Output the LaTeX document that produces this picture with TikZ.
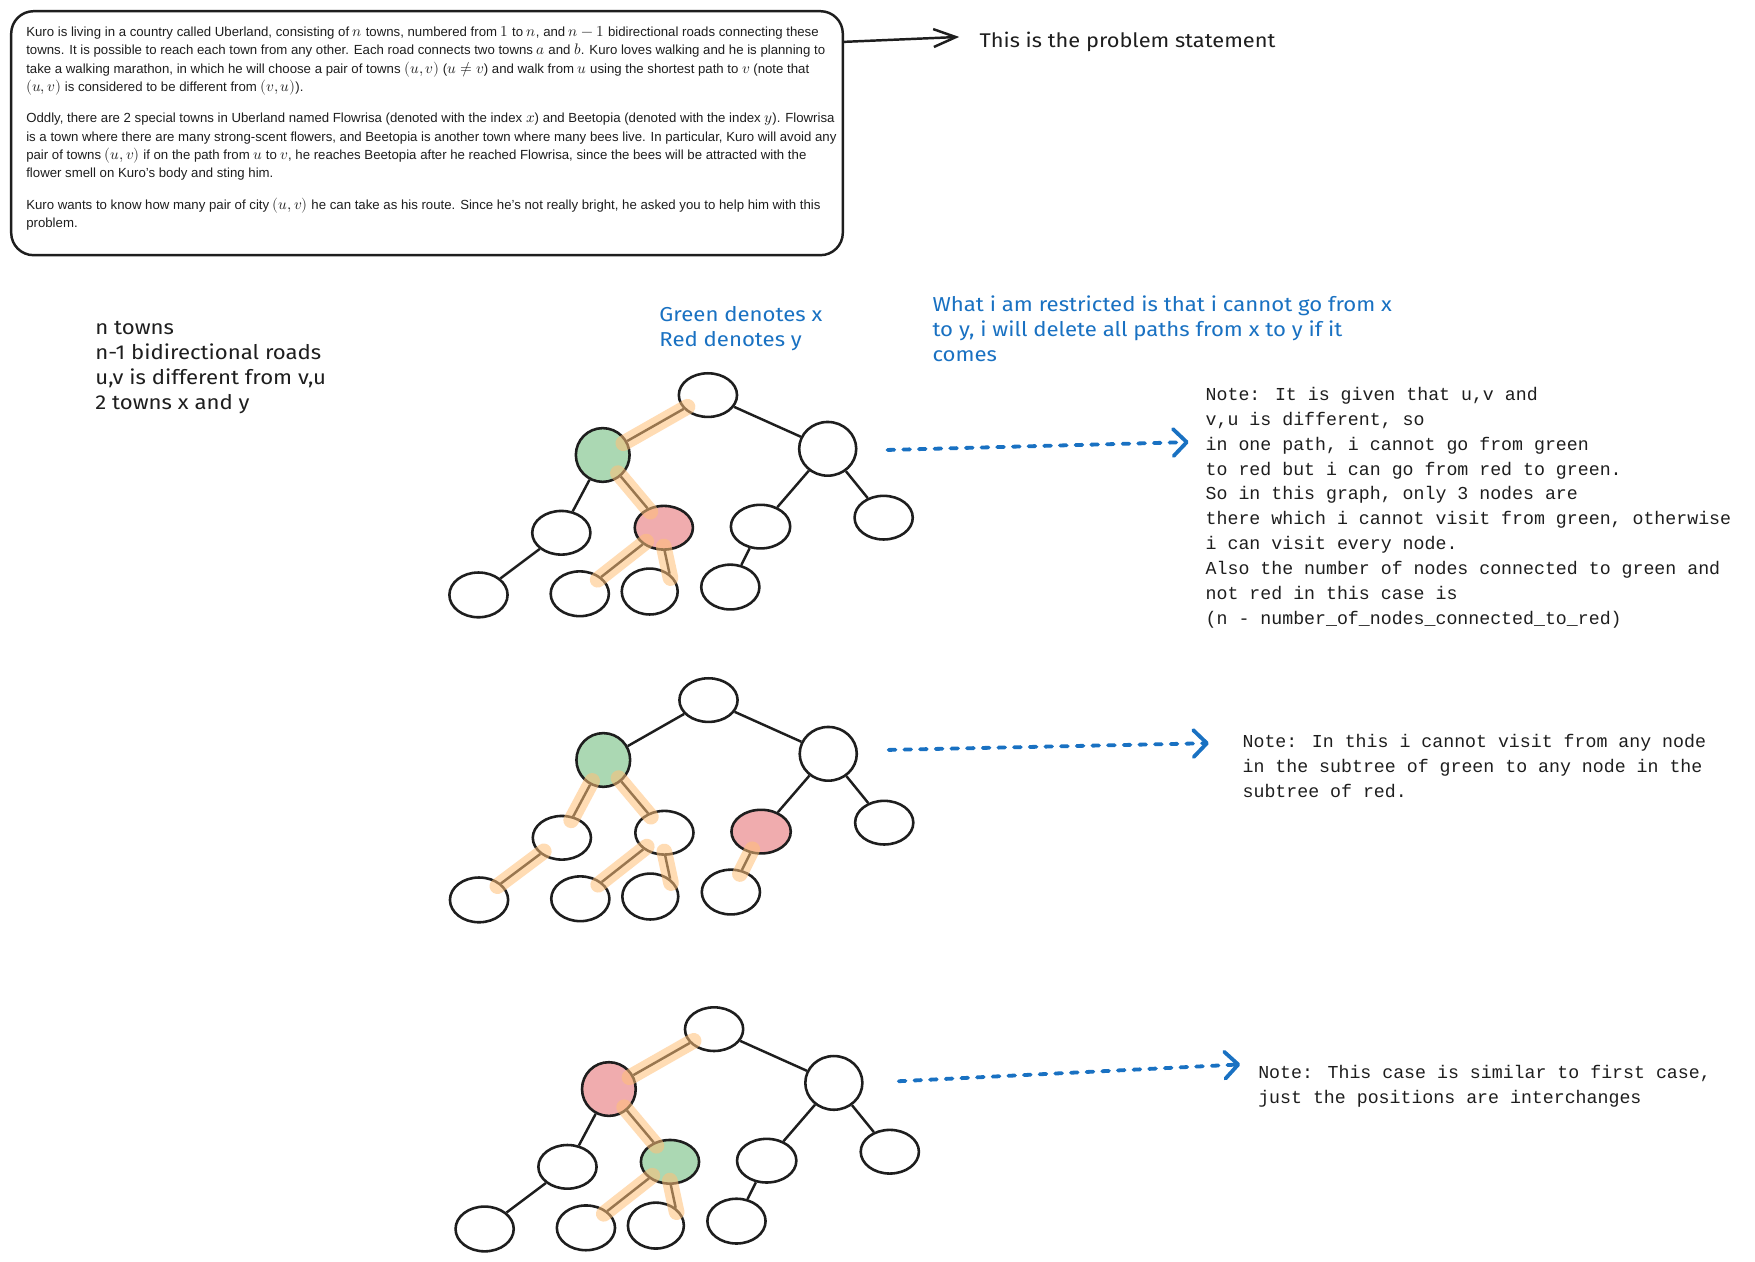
\documentclass[tikz,border=0pt]{standalone}
\usepackage{fontspec}
\usepackage{unicode-math}
\setmathfont{Latin Modern Math}
\setmainfont{Liberation Sans}
\newfontfamily\handfont[FakeStretch=1.1]{Fira Sans}
\newfontfamily\codefont{Liberation Mono}
\usetikzlibrary{shapes.geometric,arrows.meta,calc}
\definecolor{ink}{HTML}{1E1E1E}
\definecolor{gfill}{HTML}{ABD8B3}
\definecolor{rfill}{HTML}{F0ACAE}
\definecolor{hlc}{HTML}{FFC078}
\definecolor{bluec}{HTML}{1971C2}
\newcommand\ttab[1]{\begin{tabular}[t]{@{}l@{}}#1\end{tabular}}
\newcommand\mth[1]{{\fontsize{13.6}{16}\selectfont$#1$}}
\newcommand\placetree[2]{%
\begin{scope}[shift={#2}]
\node[tn, minimum width=52pt, minimum height=39pt] (#1r) at (0,0) {};
\node[tn, n1sty, minimum width=48pt, minimum height=48pt] (#1n1) at (-94,53.5) {};
\node[tn, minimum width=51pt, minimum height=48pt] (#1n2) at (107,48) {};
\node[tn, minimum width=52pt, minimum height=39pt] (#1n3) at (-131,123) {};
\node[tn, n4sty, minimum width=52pt, minimum height=39pt] (#1n4) at (-39.4,118.5) {};
\node[tn, n5sty, minimum width=53pt, minimum height=39pt] (#1n5) at (47,117.5) {};
\node[tn, minimum width=52pt, minimum height=39pt] (#1n6) at (157,109.5) {};
\node[tn] (#1l1) at (-205,178.5) {};
\node[tn] (#1l2) at (-114.5,177.5) {};
\node[tn, minimum width=50pt, minimum height=41pt] (#1l3) at (-52,175.5) {};
\node[tn] (#1l4) at (20,171.5) {};
\end{scope}
\draw[edge] (#1r) -- (#1n1);
\draw[edge] (#1r) -- (#1n2);
\draw[edge] (#1n1) -- (#1n3);
\draw[edge] (#1n1) -- (#1n4);
\draw[edge] (#1n3) -- (#1l1);
\draw[edge] (#1n4) -- (#1l2);
\draw[edge] (#1n4.-88) -- (#1l3.42);
\draw[edge] (#1n2) -- (#1n5);
\draw[edge] (#1n2) -- (#1n6);
\draw[edge] (#1n5) -- (#1l4);
}
\begin{document}
\begin{tikzpicture}[x=1pt,y=-1pt,
  tn/.style={ellipse, draw=ink, line width=2.3pt, inner sep=0pt, minimum width=52pt, minimum height=40pt},
  gnode/.style={fill=gfill},
  rnode/.style={fill=rfill},
  plainnode/.style={},
  edge/.style={draw=ink, line width=2.2pt},
  hl/.style={draw=hlc, line width=14pt, line cap=round, opacity=0.55, shorten <=-4pt, shorten >=-4pt},
  hand/.style={font=\handfont\fontsize{18}{22.4}\selectfont, inner sep=0pt, anchor=base west},
  code/.style={font=\codefont\fontsize{16.3}{22.3}\selectfont, inner sep=0pt, anchor=base west, text=ink},
  bluearrow/.style={draw=bluec, line width=3.4pt, line cap=round, dash pattern=on 6pt off 8pt,
     -{Straight Barb[length=12pt,width=24pt,line cap=round,line join=round]}}
]
\useasboundingbox (0,0) rectangle (1568,1127);
\fill[white] (0,0) rectangle (1568,1127);

% problem statement
\node[draw=ink, line width=2.2pt, rounded corners=20pt, minimum width=743pt, minimum height=218pt, inner sep=0pt,
      text=ink, font=\fontsize{11.8}{16.4}\selectfont] (stmt) at (381.5,119) {\makebox[716pt][l]{\ttab{%
Kuro is living in a country called Uberland, consisting of \mth{n} towns, numbered from \mth{1} to \mth{n}, and \mth{n-1} bidirectional roads connecting these\\
towns. It is possible to reach each town from any other. Each road connects two towns \mth{a} and \mth{b}. Kuro loves walking and he is planning to\\
take a walking marathon, in which he will choose a pair of towns \mth{(u,v)} (\mth{u\neq v}) and walk from \mth{u} using the shortest path to \mth{v} (note that\\
\mth{(u,v)} is considered to be different from \mth{(v,u)}).\\[11.6pt]
Oddly, there are 2 special towns in Uberland named Flowrisa (denoted with the index \mth{x}) and Beetopia (denoted with the index \mth{y}). Flowrisa\\
is a town where there are many strong-scent flowers, and Beetopia is another town where many bees live. In particular, Kuro will avoid any\\
pair of towns \mth{(u,v)} if on the path from \mth{u} to \mth{v}, he reaches Beetopia after he reached Flowrisa, since the bees will be attracted with the\\
flower smell on Kuro's body and sting him.\\[11.6pt]
Kuro wants to know how many pair of city \mth{(u,v)} he can take as his route. Since he's not really bright, he asked you to help him with this\\
problem.}\rule[-184.3pt]{0pt}{0pt}}};
\coordinate (stmtend) at (857,33);
\draw[ink, line width=2.2pt, -{Straight Barb[length=20pt,width=16pt]}] ($(stmt.north east)+(0,28.5)$) -- (stmtend);
\node[hand, text=ink, font=\handfont\fontsize{17.7}{22}\selectfont] (stmtlabel) at (875,42.5) {This is the problem statement};

% left notes
\node[hand, text=ink] (facts) at (85,298.5) {\ttab{n towns\\ n-1 bidirectional roads\\ u,v is different from v,u\\ 2 towns x and y}};
\node[hand, text=bluec] (legend) at (589,287.5) {\ttab{Green denotes x\\ Red denotes y}};
\node[hand, text=bluec] (restrict) at (833,278.5) {\ttab{What i am restricted is that i cannot go from x\\ to y, i will delete all paths from x to y if it\\ comes}};

% tree 1
\tikzset{n1sty/.style={gnode}, n4sty/.style={rnode}, n5sty/.style={plainnode}}
\placetree{a}{(632.5,353)}
\draw[hl] (ar) -- (an1);
\draw[hl] (an1) -- (an4);
\draw[hl] (an4) -- (al2);
\draw[hl] (an4.-88) -- (al3.42);

% tree 2
\tikzset{n1sty/.style={gnode}, n4sty/.style={plainnode}, n5sty/.style={rnode}}
\placetree{b}{(633,625.5)}
\draw[hl] (bn1) -- (bn3);
\draw[hl] (bn1) -- (bn4);
\draw[hl] (bn3) -- (bl1);
\draw[hl] (bn4) -- (bl2);
\draw[hl] (bn4.-88) -- (bl3.42);
\draw[hl] (bn5) -- (bl4);

% tree 3
\tikzset{n1sty/.style={rnode}, n4sty/.style={gnode}, n5sty/.style={plainnode}}
\placetree{c}{(638,919.5)}
\draw[hl] (cr) -- (cn1);
\draw[hl] (cn1) -- (cn4);
\draw[hl] (cn4) -- (cl2);
\draw[hl] (cn4.-88) -- (cl3.42);

% notes
\node[code] (note1) at (1077,357.5) {\ttab{Note: It is given that u,v and\\
v,u is different, so\\
in one path, i cannot go from green\\
to red but i can go from red to green.\\
So in this graph, only 3 nodes are\\
there which i cannot visit from green, otherwise\\
i can visit every node.\\
Also the number of nodes connected to green and\\
not red in this case is\\
(n - number\_of\_nodes\_connected\_to\_red)}};
\node[code] (note2) at (1110,667.5) {\ttab{Note: In this i cannot visit from any node\\
in the subtree of green to any node in the\\
subtree of red.}};
\node[code] (note3) at (1124,963.5) {\ttab{Note: This case is similar to first case,\\
just the positions are interchanges}};

% blue arrows
\coordinate (b1s) at (793,402); \coordinate (b1e) at (1062,395);
\coordinate (b2s) at (794,670); \coordinate (b2e) at (1080,664);
\coordinate (b3s) at (803,966); \coordinate (b3e) at (1108,951);
\draw[bluearrow] (b1s) -- (b1e);
\draw[bluearrow] (b2s) -- (b2e);
\draw[bluearrow] (b3s) -- (b3e);
\end{tikzpicture}
\end{document}
